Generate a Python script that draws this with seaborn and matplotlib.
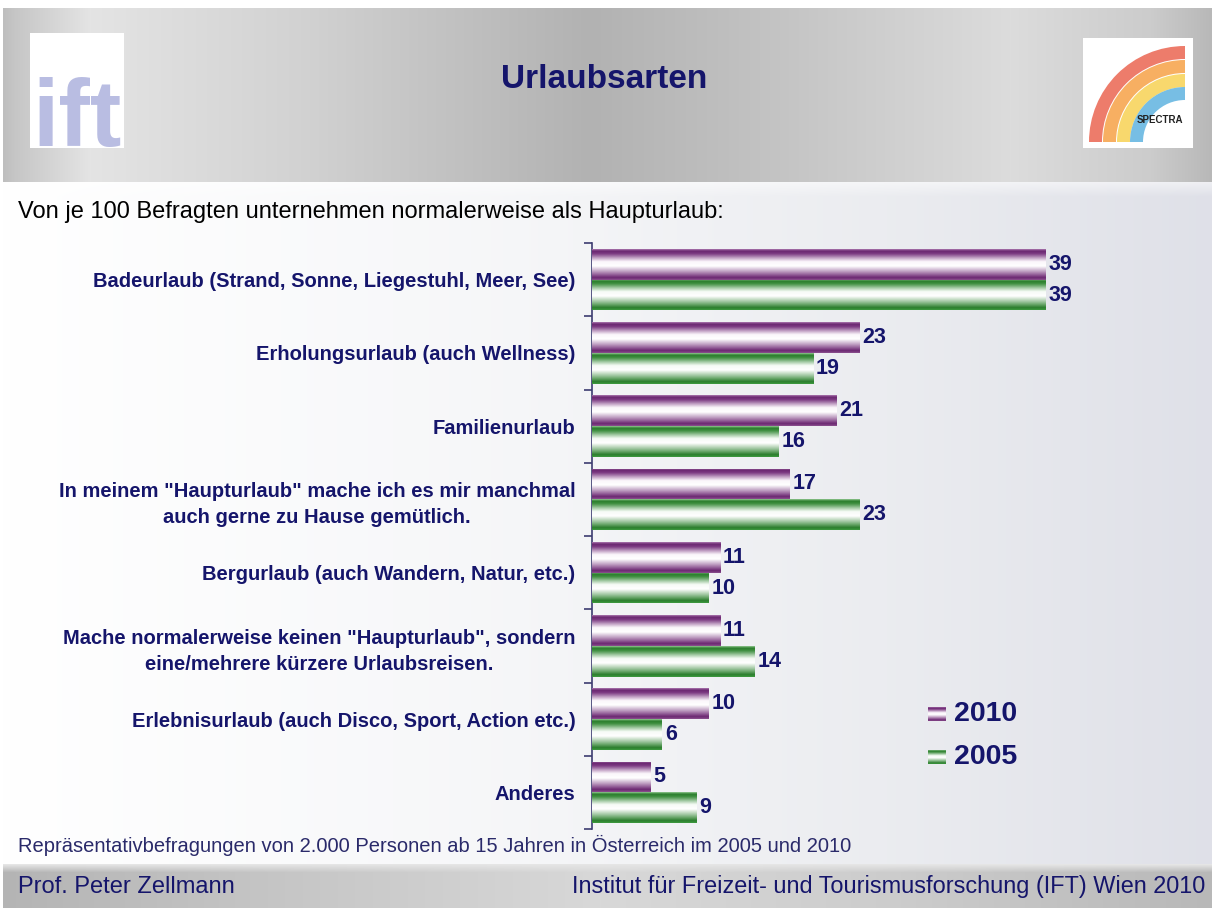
import numpy as np
import pandas as pd
import matplotlib
matplotlib.use("Agg")
import matplotlib.pyplot as plt
import seaborn as sns
from matplotlib.colors import LinearSegmentedColormap
from matplotlib.patches import Wedge, Rectangle

# ---------------- data ----------------
categories = [
    "Badeurlaub (Strand, Sonne, Liegestuhl, Meer, See)",
    "Erholungsurlaub (auch Wellness)",
    "Familienurlaub",
    "In meinem \"Haupturlaub\" mache ich es mir manchmal\nauch gerne zu Hause gemütlich.",
    "Bergurlaub (auch Wandern, Natur, etc.)",
    "Mache normalerweise keinen \"Haupturlaub\", sondern\neine/mehrere kürzere Urlaubsreisen.",
    "Erlebnisurlaub (auch Disco, Sport, Action etc.)",
    "Anderes",
]
values_2010 = [39, 23, 21, 17, 11, 11, 10, 5]
values_2005 = [39, 19, 16, 23, 10, 14, 6, 9]
years = ["2010", "2005"]

title = "Urlaubsarten"
subtitle = "Von je 100 Befragten unternehmen normalerweise als Haupturlaub:"
footnote = "Repräsentativbefragungen von 2.000 Personen ab 15 Jahren in Österreich im 2005 und 2010"
footer_left = "Prof. Peter Zellmann"
footer_right = "Institut für Freizeit- und Tourismusforschung (IFT) Wien 2010"

df = pd.DataFrame({
    "Kategorie": categories * 2,
    "Jahr": [years[0]] * len(categories) + [years[1]] * len(categories),
    "Wert": values_2010 + values_2005,
})

NAVY = "#15156b"
PURPLE = "#7a2c7e"
GREEN = "#2f8a32"
FONT = "Liberation Sans"

W, H = 1212, 908
fig = plt.figure(figsize=(W / 100, H / 100), dpi=100)

# ---------------- background ----------------
bg = np.ones((H, W, 3))
x = np.arange(W)
head = np.interp(x, [0, 15, 90, 300, 590, 760, 1010, 1150, 1212],
                 [0xBC, 0xC6, 0xE4, 0xD2, 0xB2, 0xC2, 0xDC, 0xCC, 0xB8]) / 255
for r in range(8, 182):
    bg[r, 3:, :] = head[3:, None]
content = np.stack([np.interp(x, [0, 500, 900, 1212], [1.0, 0.965, 0.92, 0.875]),
                    np.interp(x, [0, 500, 900, 1212], [1.0, 0.968, 0.925, 0.88]),
                    np.interp(x, [0, 500, 900, 1212], [1.0, 0.975, 0.94, 0.91])], axis=1)
for r in range(182, 864):
    t = min(1.0, (r - 182) / 14.0)
    bg[r, 3:, :] = (1 - t) * (0.5 * content[3:] + 0.5) + t * content[3:]
foot = np.interp(x, [0, 250, 600, 900, 1212], [0xB4, 0xC4, 0xD8, 0xCC, 0xB8]) / 255
for r in range(864, H):
    t = min(1.0, (r - 864) / 8.0)
    bg[r, 3:, :] = ((1 - t) * 0.9 + t * foot[3:])[:, None]
bgax = fig.add_axes([0, 0, 1, 1], zorder=-5)
bgax.imshow(bg, extent=(0, W, H, 0), aspect="auto", interpolation="bilinear")
bgax.set_xlim(0, W)
bgax.set_ylim(H, 0)
bgax.axis("off")

# logos
logo_box = Rectangle((30, 33), 94, 115, facecolor="white", edgecolor="none")
bgax.add_patch(logo_box)
bgax.text(77, 146, "ift", color="#b9bde2", fontsize=68, fontweight="bold",
          family=FONT, ha="center", va="baseline")
bgax.add_patch(Rectangle((1083, 38), 110, 110, facecolor="white", edgecolor="none"))
for r0, col in [(96, "#e8503a"), (82, "#f5952e"), (68, "#f6cc3c"), (55, "#4aa9dc")]:
    bgax.add_patch(Wedge((1185, 142), r0, 180, 270, width=13, facecolor=col,
                         edgecolor="none", alpha=0.75))
bgax.text(1160, 120, "SPECTRA", fontsize=7, fontweight="bold", color="#222",
          ha="center", va="center", family=FONT)

# texts
fig.text(604 / W, 1 - 80 / H, title, ha="center", va="center", fontsize=24,
         fontweight="bold", color=NAVY, family=FONT)
fig.text(18 / W, 1 - 212 / H, subtitle, ha="left", va="center", fontsize=17,
         color="black", family=FONT)
fig.text(18 / W, 1 - 845 / H, footnote, ha="left", va="center", fontsize=14.5,
         color="#2a2a6a", family=FONT)
fig.text(18 / W, 1 - 887 / H, footer_left, ha="left", va="center", fontsize=17,
         color=NAVY, family=FONT)
fig.text(1205 / W, 1 - 887 / H, footer_right, ha="right", va="center", fontsize=16.9,
         color=NAVY, family=FONT)

# ---------------- chart ----------------
ax_l, ax_r, ax_t, ax_b = 592, 1130, 243, 829
ax = fig.add_axes([ax_l / W, 1 - ax_b / H, (ax_r - ax_l) / W, (ax_b - ax_t) / H])
ax.set_facecolor("none")
sns.barplot(data=df, y="Kategorie", x="Wert", hue="Jahr", hue_order=years,
            palette=[PURPLE, GREEN], orient="h", width=0.84, ax=ax,
            legend=False, saturation=1, order=categories)
xmax = (ax_r - ax_l) / ((1046 - 592) / 39.0)

cmaps = {
    0: LinearSegmentedColormap.from_list("p", [(0, "#a874ac"), (0.06, "#6a2670"), (0.14, "#7c3a82"),
                                               (0.4, "#fbf6fb"), (0.55, "#ffffff"), (0.8, "#a273a6"),
                                               (0.93, "#6a2670"), (1, "#8a4f8e")]),
    1: LinearSegmentedColormap.from_list("g", [(0, "#8cc48c"), (0.06, "#2a7d2c"), (0.14, "#3f8f41"),
                                               (0.4, "#f6fbf6"), (0.55, "#ffffff"), (0.8, "#79b07a"),
                                               (0.93, "#2a7d2c"), (1, "#3f9a41")]),
}
grad = np.linspace(0, 1, 64).reshape(-1, 1)
for ci, cont in enumerate(ax.containers):
    vals = values_2010 if ci == 0 else values_2005
    for patch, v in zip(cont.patches, vals):
        x0, y0 = patch.get_x(), patch.get_y()
        w, h = patch.get_width(), patch.get_height()
        im = ax.imshow(grad, cmap=cmaps[ci], aspect="auto", extent=(x0, x0 + w, y0 + h, y0),
                       interpolation="bilinear", zorder=3)
        im.set_clip_path(patch)
        ax.text(x0 + w + 0.25, y0 + h / 2, str(v), ha="left", va="center", fontsize=15.5,
                fontweight="bold", color=NAVY, family=FONT, zorder=4)
ax.set_xlim(0, xmax)
ax.set_ylim(len(categories) - 0.5, -0.5)

for s in ["top", "right", "bottom"]:
    ax.spines[s].set_visible(False)
ax.spines["left"].set_color("#3c3c70")
ax.spines["left"].set_linewidth(1.2)
ax.set_xticks([])
ax.set_yticks(range(len(categories)))
ax.set_yticklabels(categories, fontsize=14.5, fontweight="bold", color=NAVY,
                   family=FONT, ha="right", linespacing=1.45)
for lab in ax.get_yticklabels():
    lab.set_multialignment("center")
ax.tick_params(axis="y", which="major", length=0, pad=12)
ax.set_yticks(np.arange(-0.5, len(categories)), minor=True)
ax.tick_params(axis="y", which="minor", length=6, color="#3c3c70", width=1.2)
ax.set_xlabel("")
ax.set_ylabel("")

# legend
legax = fig.add_axes([0, 0, 1, 1], zorder=2)
legax.set_xlim(0, W)
legax.set_ylim(H, 0)
legax.axis("off")
for yc, cm, lab in [(714, cmaps[0], years[0]), (757, cmaps[1], years[1])]:
    legax.imshow(grad, cmap=cm, aspect="auto", extent=(928, 946, yc + 7, yc - 7),
                 interpolation="bilinear")
    legax.text(954, yc, lab, ha="left", va="center", fontsize=20.5, fontweight="bold",
               color=NAVY, family=FONT)
legax.set_xlim(0, W)
legax.set_ylim(H, 0)

fig.savefig("out.png", dpi=100)
